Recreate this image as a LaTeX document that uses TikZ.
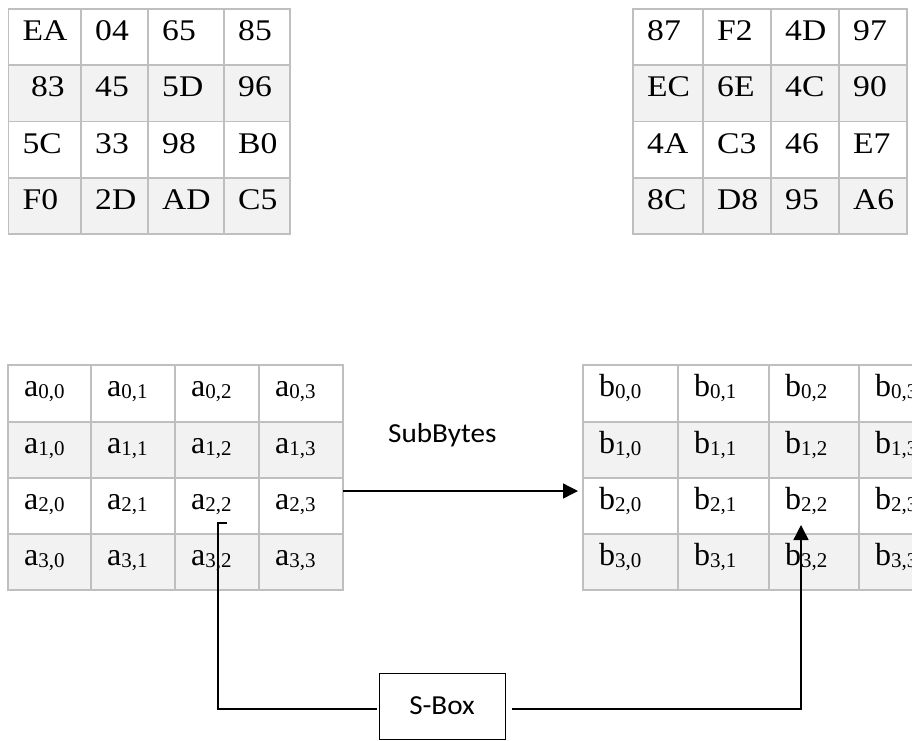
\documentclass[tikz,border=0pt]{standalone}
\usepackage{fontspec}
\setmainfont{Liberation Serif}
\newfontfamily\hexfont[FakeStretch=1.12]{Liberation Serif}
\newfontfamily\calfont[FakeStretch=1.06]{Carlito}
\usetikzlibrary{arrows.meta}

\definecolor{gridgray}{HTML}{BFBFBF}
\definecolor{rowgray}{HTML}{F2F2F2}

% letter with a lowered, smaller row,column index
\newcommand\subidx[2]{{\fontsize{32}{38}\selectfont #1}\raisebox{-2pt}{\fontsize{21}{24}\selectfont #2}}

% one table cell: prefix, column edges, row edges, row, column, text, text indent
\newcommand\drawcell[7]{%
  \pgfmathtruncatemacro\cnext{#5+1}%
  \pgfmathtruncatemacro\rnext{#4+1}%
  \pgfmathsetmacro\xa{{#2}[#5]}%
  \pgfmathsetmacro\xb{{#2}[\cnext]}%
  \pgfmathsetmacro\ya{{#3}[#4]}%
  \pgfmathsetmacro\yb{{#3}[\rnext]}%
  \pgfmathsetmacro\cw{\xb-\xa}%
  \pgfmathsetmacro\ch{\yb-\ya}%
  \ifodd#4\relax\def\cellfill{rowgray}\else\def\cellfill{white}\fi
  \node[cellbox, fill=\cellfill, minimum width=\cw pt, minimum height=\ch pt]
    (#1-#4-#5) at (\xa,\ya) {};
  \node[celltext] (#1-#4-#5-t) at (\xa+#7,\ya+31.5) {#6};
}

% 4x4 table of byte values, listed row by row
\newcommand\hextable[4]{%
  \foreach \txt [count=\i from 0] in {#4} {%
    \pgfmathtruncatemacro\rr{\i/4}%
    \pgfmathtruncatemacro\cc{mod(\i,4)}%
    \drawcell{#1}{#2}{#3}{\rr}{\cc}{\hexfont\txt}{14}%
  }%
}

% 4x4 table of indexed state bytes
\newcommand\idxtable[4]{%
  \foreach \rr in {0,...,3} {%
    \foreach \cc in {0,...,3} {%
      \drawcell{#1}{#2}{#3}{\rr}{\cc}{\subidx{#4}{\rr,\cc}}{16}%
    }%
  }%
}

\begin{document}
\begin{tikzpicture}[x=1pt, y=-1pt,
  cellbox/.style={draw=gridgray, line width=1.3pt, inner sep=0pt,
    outer sep=0pt, anchor=north west},
  celltext/.style={anchor=base west, inner sep=0pt,
    font=\fontsize{30}{36}\selectfont},
  labeltext/.style={anchor=base west, inner sep=0pt,
    font=\calfont\fontsize{27.5}{33}\selectfont},
  boxnode/.style={draw=black, line width=1pt, fill=white,
    minimum width=126pt, minimum height=66pt, inner sep=0pt,
    font=\calfont\fontsize{27.5}{33}\selectfont},
  conn/.style={line width=1.4pt, black},
  tip/.style={-{Triangle[length=15pt,width=15pt]}}]

\useasboundingbox (0,0) rectangle (912,740);
\clip (0,0) rectangle (912,740);
\fill[white] (0,0) rectangle (912,740);

% byte tables
\hextable{k}{8.5,81,148,224,290}{9,65,121.5,178,234}%
  {EA,04,65,85,{\ 83},45,5D,96,5C,33,98,B0,F0,2D,AD,C5}
\hextable{s}{633,703,771,839,907}{9,65,121.5,178,234}%
  {87,F2,4D,97,EC,6E,4C,90,4A,C3,46,E7,8C,D8,95,A6}

% state tables
\idxtable{a}{8,91,175,259,343}{365,422,478,534,590}{a}
\idxtable{b}{583,678,769,859,949}{365,422,478,534,590}{b}

% labels and the S-box
\node[labeltext] (subbytes) at (388,442) {SubBytes};
\node[boxnode] (sbox) at (442,706) {S-Box};

% connectors
\draw[conn, tip] ([yshift=-13pt]a-2-3.north east)
  -- ([xshift=-5pt,yshift=-13pt]b-2-0.north west);
\coordinate (atap) at ([xshift=52pt,yshift=-45pt]a-2-2.north west);
\coordinate (btap) at ([xshift=32pt,yshift=-47pt]b-2-2.north west);
\draw[conn] (atap) -- ++(-9,0) |- ([xshift=-2pt,yshift=-3pt]sbox.west);
\draw[conn, tip] ([xshift=6pt,yshift=-3pt]sbox.east) -| (btap);
\end{tikzpicture}
\end{document}
